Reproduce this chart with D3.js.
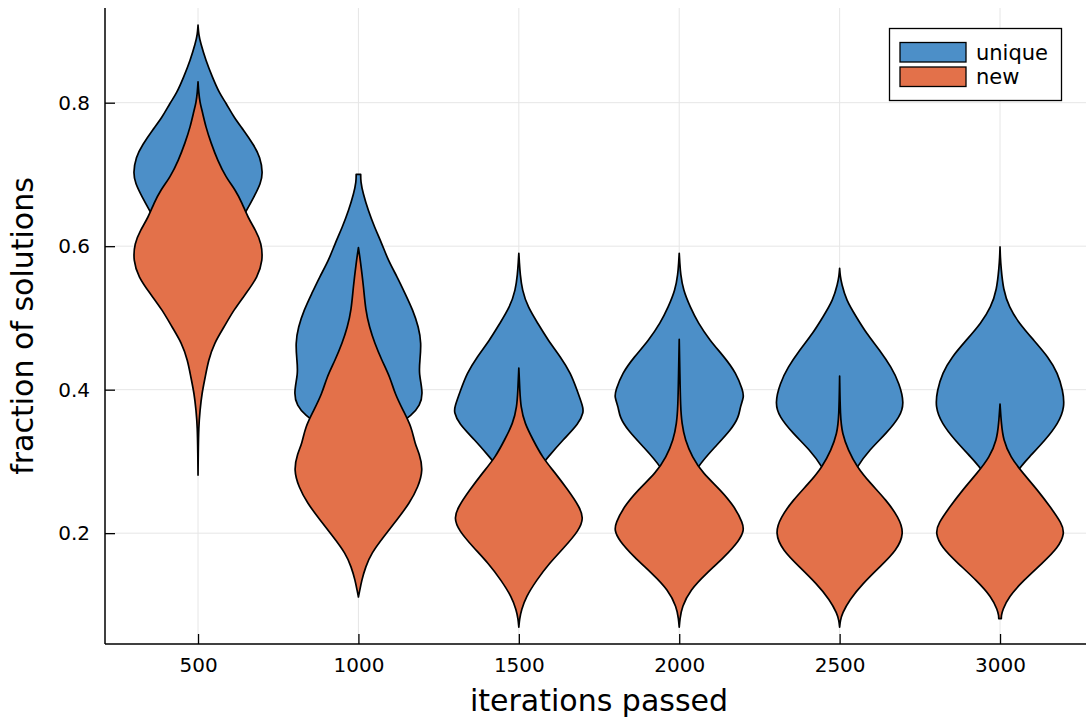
<!DOCTYPE html>
<html>
<head>
<meta charset="utf-8">
<script src="https://cdn.jsdelivr.net/npm/d3@7"></script>
<style>
  body { margin: 0; background: #fff; }
  svg { display: block; font-family: "DejaVu Sans", sans-serif; }
</style>
</head>
<body>
<svg id="chart" width="1087" height="719"></svg>
<script>
// categories and ticks
var iterations = [500, 1000, 1500, 2000, 2500, 3000];
var yTicks = [0.2, 0.4, 0.6, 0.8];
var seriesNames = ["unique", "new"];
var seriesColors = ["#4c8fc8", "#e3714a"];

// violin profiles: [fraction, relative density]
var unique500 = [[0.908,0],[0.895,0.01],[0.883,0.04],[0.859,0.12],[0.836,0.22],[0.813,0.33],[0.800,0.43],[0.780,0.55],[0.762,0.7],[0.741,0.86],[0.724,0.96],[0.702,1.0],[0.688,0.97],[0.668,0.86],[0.650,0.75],[0.630,0.62],[0.608,0.5],[0.567,0.25],[0.511,0.08],[0.455,0.01],[0.42,0]];
var unique1000 = [[0.700,0.035],[0.690,0.035],[0.674,0.07],[0.650,0.15],[0.626,0.25],[0.604,0.36],[0.580,0.46],[0.557,0.6],[0.534,0.72],[0.511,0.84],[0.487,0.93],[0.465,0.97],[0.441,0.95],[0.423,0.93],[0.395,1.0],[0.378,0.95],[0.364,0.82],[0.351,0.6],[0.330,0.35],[0.288,0.12],[0.246,0.02],[0.218,0]];
var unique1500 = [[0.590,0],[0.575,0.01],[0.562,0.02],[0.539,0.05],[0.515,0.14],[0.493,0.29],[0.469,0.45],[0.445,0.65],[0.423,0.8],[0.399,0.9],[0.376,0.99],[0.369,1.0],[0.353,0.93],[0.330,0.68],[0.306,0.45],[0.284,0.25],[0.260,0.12],[0.232,0.04],[0.190,0]];
var unique2000 = [[0.590,0],[0.575,0.01],[0.562,0.02],[0.539,0.06],[0.515,0.17],[0.493,0.29],[0.469,0.47],[0.445,0.7],[0.423,0.88],[0.399,0.98],[0.390,1.0],[0.376,0.94],[0.362,0.92],[0.344,0.8],[0.320,0.55],[0.292,0.27],[0.260,0.1],[0.218,0.02],[0.180,0]];
var unique2500 = [[0.569,0],[0.558,0.01],[0.548,0.03],[0.525,0.1],[0.501,0.26],[0.479,0.41],[0.455,0.62],[0.431,0.8],[0.409,0.92],[0.381,1.0],[0.362,0.93],[0.339,0.72],[0.316,0.46],[0.292,0.26],[0.260,0.08],[0.218,0.01],[0.190,0]];
var unique3000 = [[0.599,0],[0.585,0.005],[0.571,0.015],[0.539,0.05],[0.515,0.14],[0.493,0.29],[0.469,0.52],[0.445,0.75],[0.423,0.89],[0.399,0.97],[0.376,1.0],[0.353,0.9],[0.330,0.7],[0.306,0.45],[0.284,0.23],[0.253,0.08],[0.218,0.01],[0.190,0]];

var new500 = [[0.829,0],[0.815,0.01],[0.800,0.03],[0.790,0.06],[0.766,0.12],[0.744,0.2],[0.720,0.3],[0.696,0.43],[0.678,0.58],[0.660,0.68],[0.640,0.77],[0.622,0.89],[0.604,0.98],[0.580,1.0],[0.557,0.92],[0.534,0.74],[0.511,0.55],[0.487,0.4],[0.465,0.25],[0.441,0.16],[0.417,0.11],[0.395,0.06],[0.371,0.03],[0.348,0.01],[0.310,0.003],[0.281,0]];
var new1000 = [[0.598,0],[0.580,0.03],[0.543,0.08],[0.511,0.11],[0.487,0.17],[0.465,0.25],[0.441,0.36],[0.417,0.49],[0.395,0.56],[0.371,0.69],[0.348,0.82],[0.325,0.87],[0.311,0.94],[0.288,1.0],[0.264,0.92],[0.242,0.79],[0.218,0.59],[0.194,0.38],[0.172,0.2],[0.153,0.11],[0.134,0.05],[0.120,0.02],[0.111,0]];
var new1500 = [[0.430,0],[0.399,0.015],[0.376,0.03],[0.353,0.09],[0.330,0.22],[0.306,0.36],[0.284,0.56],[0.260,0.76],[0.236,0.94],[0.221,1.0],[0.204,0.93],[0.180,0.7],[0.158,0.47],[0.134,0.27],[0.111,0.11],[0.093,0.04],[0.080,0.01],[0.069,0]];
var new2000 = [[0.470,0],[0.423,0.01],[0.376,0.02],[0.353,0.04],[0.330,0.09],[0.306,0.2],[0.284,0.36],[0.260,0.64],[0.236,0.86],[0.214,0.98],[0.204,1.0],[0.190,0.93],[0.167,0.7],[0.144,0.42],[0.121,0.17],[0.097,0.04],[0.080,0.01],[0.069,0]];
var new2500 = [[0.419,0],[0.362,0.01],[0.339,0.04],[0.316,0.13],[0.292,0.27],[0.270,0.47],[0.246,0.72],[0.222,0.91],[0.200,1.0],[0.176,0.88],[0.153,0.62],[0.130,0.36],[0.107,0.15],[0.088,0.04],[0.078,0.01],[0.069,0]];
var new3000 = [[0.380,0],[0.353,0.02],[0.330,0.05],[0.306,0.16],[0.284,0.35],[0.260,0.58],[0.236,0.78],[0.214,0.95],[0.200,1.0],[0.180,0.9],[0.158,0.65],[0.134,0.36],[0.111,0.13],[0.093,0.04],[0.085,0.02],[0.081,0.02]];

var uniqueViolins = [unique500, unique1000, unique1500, unique2000, unique2500, unique3000];
var newViolins = [new500, new1000, new1500, new2000, new2500, new3000];

var svg = d3.select("#chart"),
    plotLeft = 105, plotRight = 1086, plotTop = 8, plotBottom = 644,
    halfWidth = 202,   // max half width of a violin, in iteration units
    lineColor = "#000";

var x = d3.scaleLinear().domain([210, 3268]).range([plotLeft, plotRight]);
var y = d3.scaleLinear().domain([0.0455, 0.932]).range([plotBottom, plotTop]);

// grid
svg.append("g").selectAll("line").data(iterations).enter().append("line")
    .attr("x1", function (d) { return x(d); }).attr("x2", function (d) { return x(d); })
    .attr("y1", plotTop).attr("y2", plotBottom)
    .attr("stroke", "#e6e6e6").attr("stroke-width", 1);
svg.append("g").selectAll("line").data(yTicks).enter().append("line")
    .attr("x1", plotLeft).attr("x2", plotRight)
    .attr("y1", function (d) { return y(d); }).attr("y2", function (d) { return y(d); })
    .attr("stroke", "#e6e6e6").attr("stroke-width", 1);

// violins
var drawViolins = function (profiles, color) {
    var g = svg.append("g");
    profiles.forEach(function (prof, i) {
        var c = iterations[i];
        var area = d3.area()
            .curve(d3.curveBasis)
            .y(function (d) { return y(d[0]); })
            .x0(function (d) { return x(c - d[1] * halfWidth); })
            .x1(function (d) { return x(c + d[1] * halfWidth); });
        g.append("path")
            .attr("d", area(prof))
            .attr("fill", color)
            .attr("stroke", lineColor)
            .attr("stroke-width", 1.7)
            .attr("stroke-linejoin", "round");
    });
};
drawViolins(uniqueViolins, seriesColors[0]);
drawViolins(newViolins, seriesColors[1]);

// axes
var xAxis = d3.axisBottom(x).tickValues(iterations).tickSize(-10).tickPadding(14)
    .tickFormat(d3.format("d"));
var yAxis = d3.axisLeft(y).tickValues(yTicks).tickSize(-10).tickPadding(15)
    .tickFormat(d3.format(".1f"));

var gx = svg.append("g").attr("transform", "translate(0," + plotBottom + ")").call(xAxis);
var gy = svg.append("g").attr("transform", "translate(" + plotLeft + ",0)").call(yAxis);
[gx, gy].forEach(function (g) {
    g.select(".domain").remove();
    g.selectAll(".tick line").attr("stroke", lineColor).attr("stroke-width", 1.3);
    g.selectAll(".tick text").attr("fill", "#000").style("font-size", "20px")
        .style("font-family", "DejaVu Sans, sans-serif");
});
svg.append("line").attr("x1", plotLeft).attr("x2", plotLeft).attr("y1", plotTop).attr("y2", plotBottom)
    .attr("stroke", lineColor).attr("stroke-width", 1.5);
svg.append("line").attr("x1", plotLeft).attr("x2", plotRight).attr("y1", plotBottom).attr("y2", plotBottom)
    .attr("stroke", lineColor).attr("stroke-width", 1.5);

// axis labels
svg.append("text").attr("x", 599).attr("y", 711).attr("text-anchor", "middle")
    .style("font-size", "30px").text("iterations passed");
svg.append("text").attr("transform", "translate(33,326) rotate(-90)").attr("text-anchor", "middle")
    .style("font-size", "30px").text("fraction of solutions");

// legend
var legend = svg.append("g");
legend.append("rect").attr("x", 889.5).attr("y", 28.5).attr("width", 172).attr("height", 72)
    .attr("fill", "#fff").attr("stroke", lineColor).attr("stroke-width", 1.3);
seriesNames.forEach(function (name, i) {
    legend.append("rect").attr("x", 900).attr("y", 42.5 + i * 24.5).attr("width", 66).attr("height", 19.5)
        .attr("fill", seriesColors[i]).attr("stroke", lineColor).attr("stroke-width", 1.3);
    legend.append("text").attr("x", 976).attr("y", 59.5 + i * 24.5)
        .style("font-size", "21px").text(name);
});
</script>
</body>
</html>
